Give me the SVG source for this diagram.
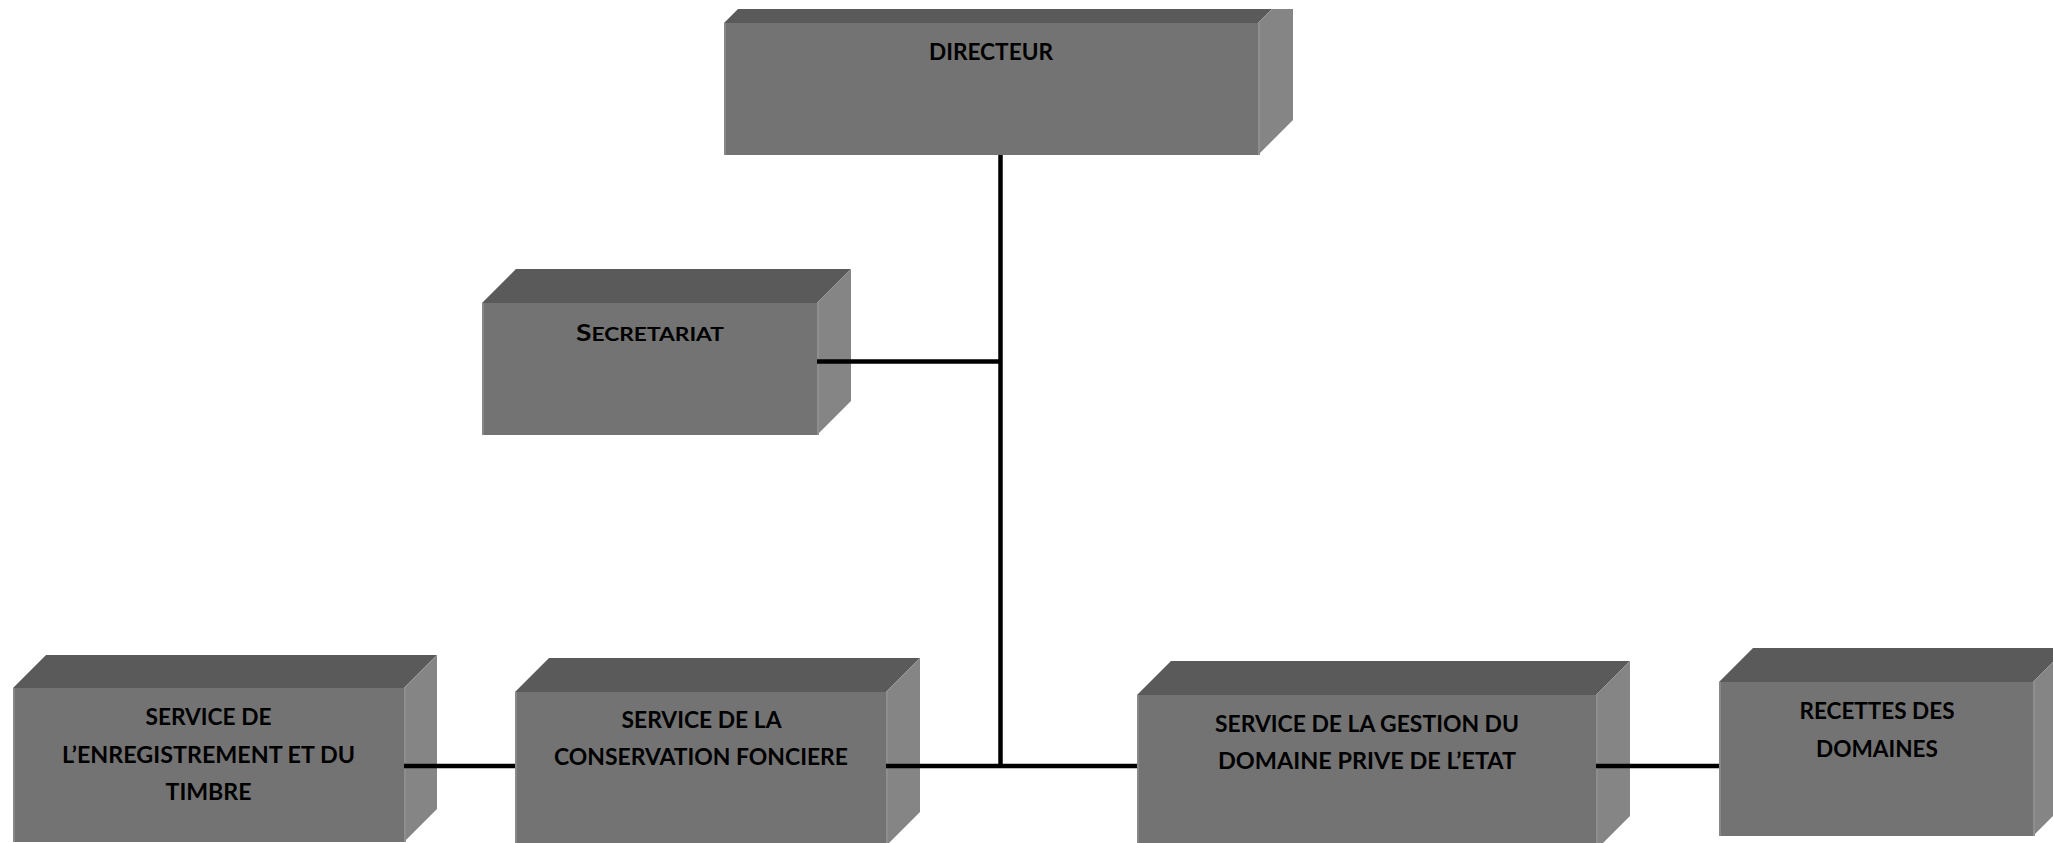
<svg xmlns="http://www.w3.org/2000/svg" width="2053" height="843" viewBox="0 0 2053 843">
<style>
.front{fill:#737373}
.top{fill:#5a5a5a}
.side{fill:#858585}
.edge{stroke:#8e8e8e;stroke-width:2}
.lite{stroke:#888888;stroke-width:2}
.lbl{font-family:Lato,"Open Sans","Liberation Sans",sans-serif;font-weight:700;font-size:23.5px;fill:#000;text-anchor:middle}
.sc{font-size:19px}
.conn line{stroke:#000;stroke-width:4.5}
</style>
<rect width="2053" height="843" fill="#fff"/>
<g id="directeur">
<polygon class="top" points="724,23 738,9 1272,9 1258,23"/>
<polygon class="side" points="1258,23 1272,9 1293,9 1293,120 1258,155"/>
<rect class="front" x="724" y="23" width="534" height="132"/>
<line class="lite" x1="725" y1="23" x2="725" y2="155"/>
<line class="edge" x1="1259" y1="23" x2="1259" y2="155"/>
<text class="lbl" x="991" y="60" textLength="124" lengthAdjust="spacingAndGlyphs">DIRECTEUR</text>
</g>
<g id="secretariat">
<polygon class="top" points="482,303 516,269 851,269 817,303"/>
<polygon class="side" points="817,303 851,269 851,401 817,435"/>
<rect class="front" x="482" y="303" width="335" height="132"/>
<line class="lite" x1="483" y1="303" x2="483" y2="435"/>
<line class="edge" x1="818" y1="303" x2="818" y2="435"/>
<text class="lbl" x="650" y="341" textLength="148" lengthAdjust="spacingAndGlyphs">S<tspan class="sc">ECRETARIAT</tspan></text>
</g>
<g id="enregistrement">
<polygon class="top" points="13,688 46,655 437,655 404,688"/>
<polygon class="side" points="404,688 437,655 437,809 404,842"/>
<rect class="front" x="13" y="688" width="391" height="154"/>
<line class="lite" x1="14" y1="688" x2="14" y2="842"/>
<line class="edge" x1="405" y1="688" x2="405" y2="842"/>
<text class="lbl" x="208.5" y="725" textLength="126" lengthAdjust="spacingAndGlyphs">SERVICE DE</text>
<text class="lbl" x="208.5" y="763" textLength="293" lengthAdjust="spacingAndGlyphs">L’ENREGISTREMENT ET DU</text>
<text class="lbl" x="208.5" y="800" textLength="86" lengthAdjust="spacingAndGlyphs">TIMBRE</text>
</g>
<g id="conservation">
<polygon class="top" points="515,692 549,658 920,658 886,692"/>
<polygon class="side" points="886,692 920,658 920,812 886,846"/>
<rect class="front" x="515" y="692" width="371" height="160"/>
<line class="lite" x1="516" y1="692" x2="516" y2="852"/>
<line class="edge" x1="887" y1="692" x2="887" y2="852"/>
<text class="lbl" x="701.5" y="728" textLength="160" lengthAdjust="spacingAndGlyphs">SERVICE DE LA</text>
<text class="lbl" x="701" y="764.5" textLength="294" lengthAdjust="spacingAndGlyphs">CONSERVATION FONCIERE</text>
</g>
<g id="gestion">
<polygon class="top" points="1137,695 1171,661 1630,661 1596,695"/>
<polygon class="side" points="1596,695 1630,661 1630,816 1596,850"/>
<rect class="front" x="1137" y="695" width="459" height="160"/>
<line class="lite" x1="1138" y1="695" x2="1138" y2="855"/>
<line class="edge" x1="1597" y1="695" x2="1597" y2="855"/>
<text class="lbl" x="1367" y="732" textLength="304" lengthAdjust="spacingAndGlyphs">SERVICE DE LA GESTION DU</text>
<text class="lbl" x="1367" y="769" textLength="298" lengthAdjust="spacingAndGlyphs">DOMAINE PRIVE DE L’ETAT</text>
</g>
<g id="recettes">
<polygon class="top" points="1719,682 1753,648 2067,648 2033,682"/>
<polygon class="side" points="2033,682 2067,648 2067,802 2033,836"/>
<rect class="front" x="1719" y="682" width="314" height="154"/>
<line class="lite" x1="1720" y1="682" x2="1720" y2="836"/>
<line class="edge" x1="2034" y1="682" x2="2034" y2="836"/>
<text class="lbl" x="1877" y="719" textLength="155" lengthAdjust="spacingAndGlyphs">RECETTES DES</text>
<text class="lbl" x="1877" y="757" textLength="122" lengthAdjust="spacingAndGlyphs">DOMAINES</text>
</g>
<g class="conn" id="connectors">
<line x1="1000.5" y1="155" x2="1000.5" y2="768"/>
<line x1="817" y1="361.5" x2="1002" y2="361.5"/>
<line x1="886" y1="766" x2="1137" y2="766"/>
<line x1="404" y1="766" x2="515" y2="766"/>
<line x1="1596" y1="766" x2="1719" y2="766"/>
</g>
</svg>
